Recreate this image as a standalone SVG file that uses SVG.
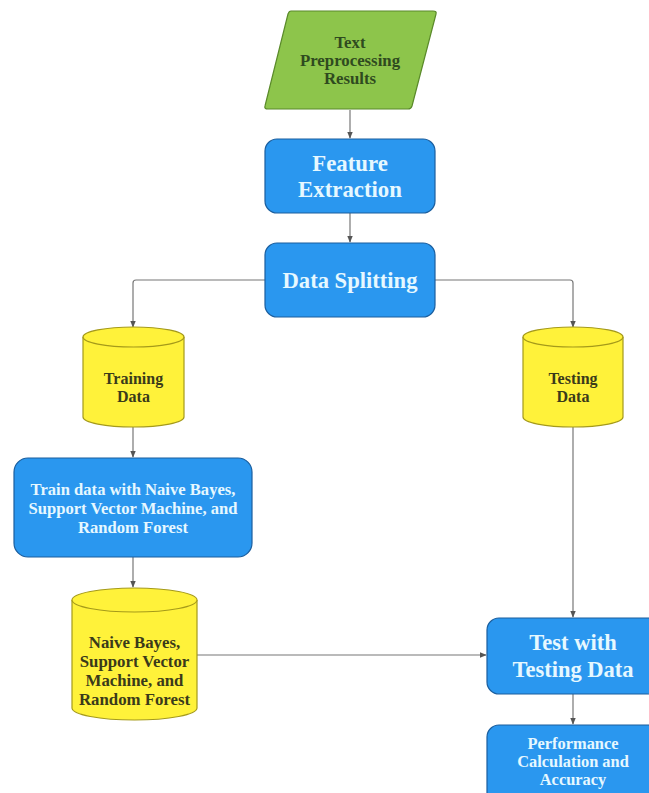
<svg xmlns="http://www.w3.org/2000/svg" width="649" height="793" viewBox="0 0 649 793">
<defs>
<style>
.blue{fill:#2a97ef;stroke:#1b5e9e;stroke-width:1.2}
.yel{fill:#fff23a;stroke:#a59a1a;stroke-width:1.2}
.grn{fill:#8dc54b;stroke:#5a8a2a;stroke-width:1.2}
.tw{font-family:"Liberation Serif","Times New Roman",serif;font-weight:bold;fill:#e6f8ff;text-anchor:middle}
.td{font-family:"Liberation Serif","Times New Roman",serif;font-weight:bold;fill:#3a3a1a;text-anchor:middle}
.tg{font-family:"Liberation Serif","Times New Roman",serif;font-weight:bold;fill:#2f4a1f;text-anchor:middle}
.c{fill:none;stroke:#777;stroke-width:1.2}
</style>
<marker id="ah" viewBox="0 0 10 10" refX="9" refY="5" markerWidth="7" markerHeight="7" orient="auto" markerUnits="userSpaceOnUse">
<path d="M0,1 L10,5 L0,9 Z" fill="#555"/>
</marker>
</defs>
<rect width="649" height="793" fill="#ffffff"/>
<g id="connectors">
<path class="c" d="M350,110 V138" marker-end="url(#ah)"/>
<path class="c" d="M350,213 V242" marker-end="url(#ah)"/>
<path class="c" d="M265,280 H136 Q133,280 133,283 V327" marker-end="url(#ah)"/>
<path class="c" d="M435,280 H570 Q573,280 573,283 V327" marker-end="url(#ah)"/>
<path class="c" d="M133,427 V457" marker-end="url(#ah)"/>
<path class="c" d="M133,557 V587" marker-end="url(#ah)"/>
<path class="c" d="M197,655 H486" marker-end="url(#ah)"/>
<path class="c" d="M573,427 V617" marker-end="url(#ah)"/>
<path class="c" d="M573,694 V724" marker-end="url(#ah)"/>
</g>
<g id="text-preprocessing">
<path class="grn" d="M291,11 H433 Q437,11 436,14 L412,106 Q411,109 408,109 H268 Q264,109 265,106 L288,14 Q289,11 291,11 Z"/>
<text class="tg" font-size="16.8"><tspan x="350" y="48">Text</tspan><tspan x="350" y="66">Preprocessing</tspan><tspan x="350" y="84">Results</tspan></text>
</g>
<g id="feature-extraction">
<rect class="blue" x="265" y="139" width="170" height="74" rx="12"/>
<text class="tw" font-size="22.8"><tspan x="350" y="171">Feature</tspan><tspan x="350" y="197">Extraction</tspan></text>
</g>
<g id="data-splitting">
<rect class="blue" x="265" y="243" width="170" height="74" rx="12"/>
<text class="tw" font-size="22.6" x="350" y="288">Data Splitting</text>
</g>
<g id="training-data">
<path class="yel" d="M83,337 A50.5,10 0 0 1 184,337 V417 A50.5,10 0 0 1 83,417 Z"/>
<path class="yel" d="M83,337 A50.5,10 0 0 0 184,337" fill="none"/>
<text class="td" font-size="16"><tspan x="133.5" y="384">Training</tspan><tspan x="133.5" y="402">Data</tspan></text>
</g>
<g id="testing-data">
<path class="yel" d="M523,337 A50,10 0 0 1 623,337 V417 A50,10 0 0 1 523,417 Z"/>
<path class="yel" d="M523,337 A50,10 0 0 0 623,337" fill="none"/>
<text class="td" font-size="16"><tspan x="573" y="384">Testing</tspan><tspan x="573" y="402">Data</tspan></text>
</g>
<g id="train-models">
<rect class="blue" x="14" y="458" width="238" height="99" rx="14"/>
<text class="tw" font-size="16.6"><tspan x="133" y="495">Train data with Naive Bayes,</tspan><tspan x="133" y="514">Support Vector Machine, and</tspan><tspan x="133" y="533">Random Forest</tspan></text>
</g>
<g id="models">
<path class="yel" d="M72,600 A62.5,12 0 0 1 197,600 V708 A62.5,12 0 0 1 72,708 Z"/>
<path class="yel" d="M72,600 A62.5,12 0 0 0 197,600" fill="none"/>
<text class="td" font-size="16.8"><tspan x="134.5" y="648">Naive Bayes,</tspan><tspan x="134.5" y="667">Support Vector</tspan><tspan x="134.5" y="686">Machine, and</tspan><tspan x="134.5" y="705">Random Forest</tspan></text>
</g>
<g id="test-with-testing-data">
<rect class="blue" x="487" y="618" width="172" height="76" rx="12"/>
<text class="tw" font-size="22.5"><tspan x="573" y="650">Test with</tspan><tspan x="573" y="677">Testing Data</tspan></text>
</g>
<g id="performance">
<rect class="blue" x="487" y="725" width="172" height="90" rx="12"/>
<text class="tw" font-size="16.4"><tspan x="573" y="749">Performance</tspan><tspan x="573" y="767">Calculation and</tspan><tspan x="573" y="785">Accuracy</tspan></text>
</g>
</svg>
